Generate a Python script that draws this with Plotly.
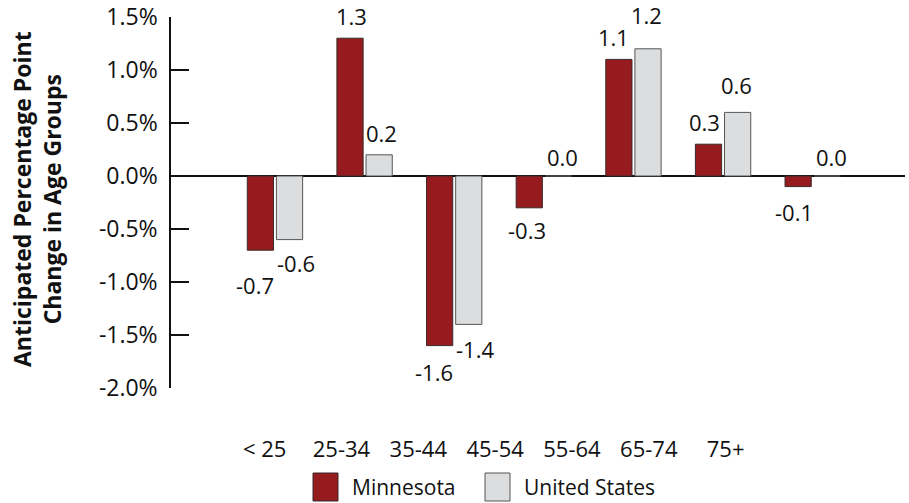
import plotly.graph_objects as go

# Age-group categories and the anticipated change in share (percentage points)
age_groups = ["< 25", "25-34", "35-44", "45-54", "55-64", "65-74", "75+"]
minnesota = [-0.7, 1.3, -1.6, -0.3, 1.1, 0.3, -0.1]
united_states = [-0.6, 0.2, -1.4, 0.0, 1.2, 0.6, 0.0]

series_names = ["Minnesota", "United States"]
y_tick_values = [-2.0, -1.5, -1.0, -0.5, 0.0, 0.5, 1.0, 1.5]
y_tick_labels = ["-2.0%", "-1.5%", "-1.0%", "-0.5%", "0.0%", "0.5%", "1.0%", "1.5%"]

MN_RED = "#961b1f"
US_GRAY = "#dcdddf"
FONT = "Open Sans"

# figure geometry (pixels)
W, H = 909, 503
L, R, T, B = 171, 4, 17, 115
PW, PH = W - L - R, H - T - B


def px_x(px):
    return (px - L) / PW


def px_y(py):
    return (H - B - py) / PH


fig = go.Figure()
fig.add_trace(go.Bar(
    x=age_groups, y=minnesota, name=series_names[0],
    marker=dict(color=MN_RED, line=dict(color="#3a2a2a", width=1)),
    showlegend=False, hoverinfo="x+y",
))
fig.add_trace(go.Bar(
    x=age_groups, y=united_states, name=series_names[1],
    marker=dict(color=US_GRAY, line=dict(color="#555555", width=1)),
    showlegend=False, hoverinfo="x+y",
))
# carrier trace for the category label axis
fig.add_trace(go.Scatter(
    x=list(range(len(age_groups))), y=[0] * len(age_groups),
    xaxis="x2", mode="markers", marker=dict(opacity=0),
    showlegend=False, hoverinfo="skip",
))

# value labels: (dx, dy) pixel nudges per bar, first Minnesota then US
mn_nudge = [(-20, -35), (-13, 22), (-20, -26), (-17, -22), (-20, 22), (-19, 22), (-19, -25)]
us_nudge = [(21, -23), (17, 22), (21, -25), (19, 19), (13, 34), (13, 27), (19, 19)]

annotations = []
for values, nudges in ((minnesota, mn_nudge), (united_states, us_nudge)):
    for cat, v, (dx, dy) in zip(age_groups, values, nudges):
        annotations.append(dict(
            x=cat, y=v, xref="x", yref="y", text=f"{v:.1f}",
            showarrow=False, xanchor="center", yanchor="middle",
            xshift=dx, yshift=dy,
            font=dict(family=FONT, size=22, color="#111111"),
        ))

# axis title
annotations.append(dict(
    x=px_x(37), y=px_y(199), xref="paper", yref="paper",
    text="<b>Anticipated Percentage Point<br>Change in Age Groups</b>",
    textangle=-90, showarrow=False, xanchor="center", yanchor="middle",
    font=dict(family=FONT, size=23, color="#111111"),
))

# legend built from shapes + text
shapes = []
legend_items = [(series_names[0], MN_RED, 313, "#3a2a2a"), (series_names[1], US_GRAY, 485, "#555555")]
for name, color, left, edge in legend_items:
    shapes.append(dict(
        type="rect", xref="paper", yref="paper",
        x0=px_x(left), x1=px_x(left + 25), y0=px_y(501), y1=px_y(473),
        fillcolor=color, line=dict(color=edge, width=1),
    ))
    annotations.append(dict(
        x=px_x(left + 37), y=px_y(487), xref="paper", yref="paper",
        text=name, showarrow=False, xanchor="left", yanchor="middle",
        font=dict(family=FONT, size=21, color="#111111"),
    ))

fig.update_layout(
    width=W, height=H,
    margin=dict(l=L, r=R, t=T, b=B, autoexpand=False),
    paper_bgcolor="white", plot_bgcolor="white",
    barmode="group", bargap=0.35, bargroupgap=0.1,
    font=dict(family=FONT, size=22, color="#111111"),
    xaxis=dict(
        range=[-1.16, 7.03], showticklabels=False, ticks="",
        showline=False, showgrid=False, zeroline=False, automargin=False,
    ),
    xaxis2=dict(
        overlaying="x", anchor="y", side="bottom",
        range=[-1.219, 8.335], tickmode="array",
        tickvals=list(range(len(age_groups))), ticktext=age_groups,
        ticks="outside", ticklen=42, tickcolor="rgba(0,0,0,0)",
        showline=False, showgrid=False, zeroline=False, automargin=False,
        tickfont=dict(family=FONT, size=22, color="#111111"),
    ),
    yaxis=dict(
        range=[-2.0, 1.5], tickmode="array",
        tickvals=y_tick_values, ticktext=y_tick_labels,
        ticks="inside", ticklen=18, tickwidth=1.5, tickcolor="#111111",
        showline=True, linecolor="#111111", linewidth=1.5,
        showgrid=False, zeroline=True, zerolinecolor="#111111", zerolinewidth=1.5,
        ticklabelstandoff=7, automargin=False,
        tickfont=dict(family=FONT, size=23, color="#111111"),
    ),
    annotations=annotations,
    shapes=shapes,
)

fig.write_html("out.html")
